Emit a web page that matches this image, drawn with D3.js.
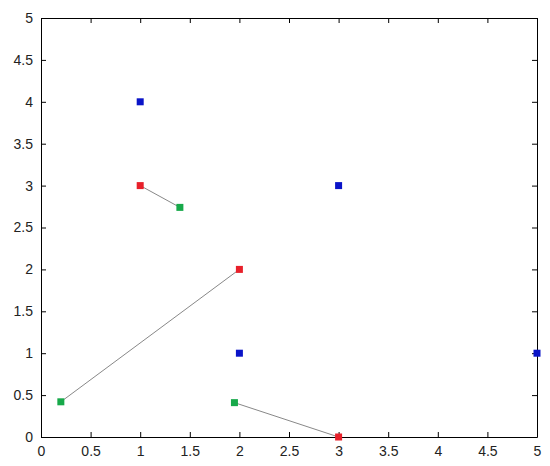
<!DOCTYPE html>
<html lang="en">
<head>
  <meta charset="UTF-8">
  <title>Matched points</title>
  <script src="https://d3js.org/d3.v7.min.js"></script>
  <style>
    body { margin: 0; background: #fff; }
    svg text { font-family: 'Liberation Sans', Arial, sans-serif; font-size: 14px; fill: #222; }
  </style>
</head>
<body>
  <script>
    // data
    const bluePts = [[1, 4], [3, 3], [2, 1], [5, 1]];
    const redPts = [[1, 3], [2, 2], [3, 0]];
    const greenPts = [[1.4, 2.74], [0.2, 0.42], [1.95, 0.41]];
    const xTicks = [0, 0.5, 1, 1.5, 2, 2.5, 3, 3.5, 4, 4.5, 5];
    const yTicks = [0, 0.5, 1, 1.5, 2, 2.5, 3, 3.5, 4, 4.5, 5];

    const width = 550, height = 466;
    const plotLeft = 41, plotRight = 537, plotTop = 18, plotBottom = 437;

    const svg = d3.select("body").append("svg")
      .attr("width", width)
      .attr("height", height);

    const x = d3.scaleLinear().domain([0, 5]).range([plotLeft, plotRight]);
    const y = d3.scaleLinear().domain([0, 5]).range([plotBottom, plotTop]);

    // axes with inward ticks, MATLAB box style
    const fmt = d => String(d);
    svg.append("g").attr("transform", `translate(0,${plotBottom})`)
      .call(d3.axisBottom(x).tickValues(xTicks).tickFormat(fmt).tickSizeInner(-5).tickSizeOuter(0).tickPadding(9));
    svg.append("g").attr("transform", `translate(${plotLeft},0)`)
      .call(d3.axisLeft(y).tickValues(yTicks).tickFormat(fmt).tickSizeInner(-5).tickSizeOuter(0).tickPadding(8));
    svg.append("g").attr("transform", `translate(0,${plotTop})`)
      .call(d3.axisTop(x).tickValues(xTicks).tickFormat("").tickSizeInner(-5).tickSizeOuter(0));
    svg.append("g").attr("transform", `translate(${plotRight},0)`)
      .call(d3.axisRight(y).tickValues(yTicks).tickFormat("").tickSizeInner(-5).tickSizeOuter(0));

    svg.selectAll(".domain, .tick line").attr("stroke", "#000");
    svg.selectAll(".tick text").attr("font-size", 14).attr("font-family", "'Liberation Sans', Arial, sans-serif").attr("fill", "#222");

    // connecting lines red -> green
    svg.selectAll(".link")
      .data(d3.zip(redPts, greenPts))
      .enter().append("line")
      .attr("x1", d => x(d[0][0]))
      .attr("y1", d => y(d[0][1]))
      .attr("x2", d => x(d[1][0]))
      .attr("y2", d => y(d[1][1]))
      .attr("stroke", "#888")
      .attr("stroke-width", 1);

    const s = 7;
    function squares(data, color) {
      svg.selectAll(null)
        .data(data)
        .enter().append("rect")
        .attr("x", d => x(d[0]) - s / 2)
        .attr("y", d => y(d[1]) - s / 2)
        .attr("width", s)
        .attr("height", s)
        .attr("fill", color);
    }
    squares(bluePts, "#0a14c8");
    squares(redPts, "#e8202a");
    squares(greenPts, "#17a94a");
  </script>
</body>
</html>
